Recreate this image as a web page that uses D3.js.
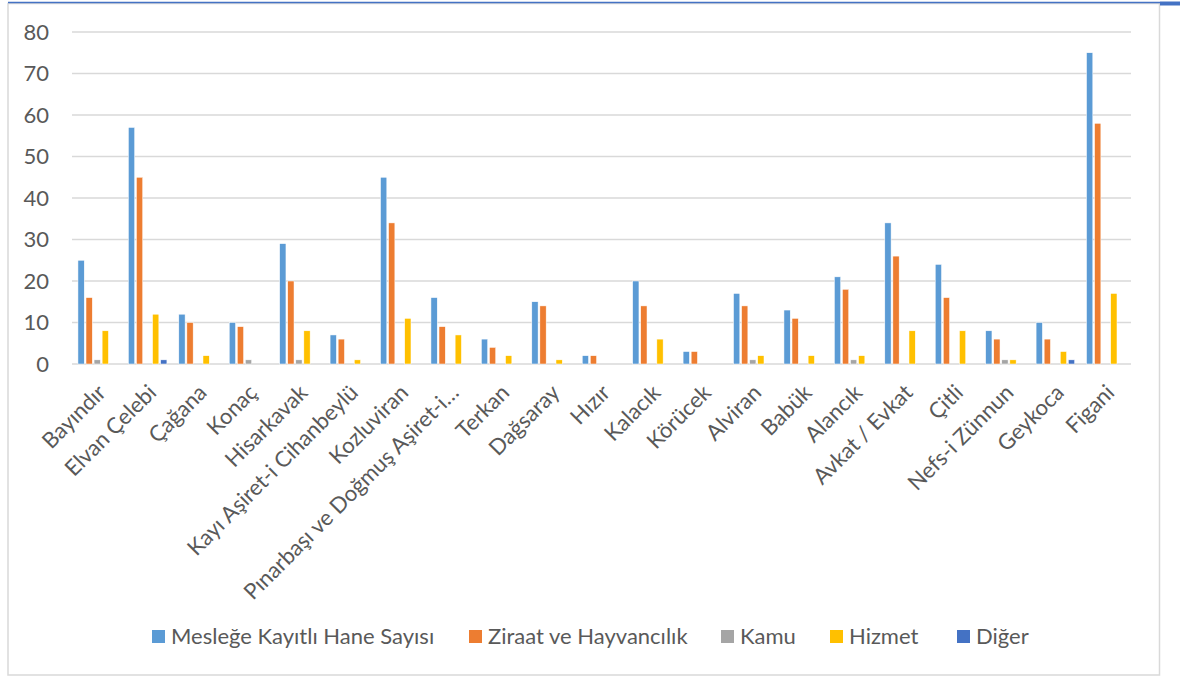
<!DOCTYPE html>
<html>
<head>
<meta charset="utf-8">
<script src="https://cdn.jsdelivr.net/npm/d3@7"></script>
<style>
  html, body { margin: 0; padding: 0; background: #fff; }
  svg { display: block; }
  text { font-family: "Lato", "Open Sans", sans-serif; fill: #595959; }
</style>
</head>
<body>
<svg id="chart" width="1180" height="677"></svg>
<script>
const categories = ["Bayındır", "Elvan Çelebi", "Çağana", "Konaç", "Hisarkavak",
  "Kayı Aşiret-i Cihanbeylü", "Kozluviran", "Pınarbaşı ve Doğmuş Aşiret-i…", "Terkan",
  "Dağsaray", "Hızır", "Kalacık", "Körücek", "Alviran", "Babük", "Alancık",
  "Avkat / Evkat", "Çitli", "Nefs-i Zünnun", "Geykoca", "Figani"];
const seriesNames = ["Mesleğe Kayıtlı Hane Sayısı", "Ziraat ve Hayvancılık", "Kamu", "Hizmet", "Diğer"];
const meslegeKayitli = [25, 57, 12, 10, 29, 7, 45, 16, 6, 15, 2, 20, 3, 17, 13, 21, 34, 24, 8, 10, 75];
const ziraat        = [16, 45, 10, 9, 20, 6, 34, 9, 4, 14, 2, 14, 3, 14, 11, 18, 26, 16, 6, 6, 58];
const kamu          = [1, 0, 0, 1, 1, 0, 0, 0, 0, 0, 0, 0, 0, 1, 0, 1, 0, 0, 1, 0, 0];
const hizmet        = [8, 12, 2, 0, 8, 1, 11, 7, 2, 1, 0, 6, 0, 2, 2, 2, 8, 8, 1, 3, 17];
const diger         = [0, 1, 0, 0, 0, 0, 0, 0, 0, 0, 0, 0, 0, 0, 0, 0, 0, 0, 0, 1, 0];
const yTicks = [0, 10, 20, 30, 40, 50, 60, 70, 80];
const colors = ["#5B9BD5", "#ED7D31", "#A5A5A5", "#FFC000", "#4472C4"];

const seriesValues = [meslegeKayitli, ziraat, kamu, hizmet, diger];
const FONT = 22;

const svg = d3.select("#chart");

// outer frame
svg.append("rect").attr("x", 8).attr("y", 3.5).attr("width", 1151.5).attr("height", 671.5)
  .attr("fill", "#fff").attr("stroke", "#D9D9D9").attr("stroke-width", 1.5);
svg.append("line").attr("x1", 8).attr("x2", 1160).attr("y1", 2.5).attr("y2", 2.5)
  .attr("stroke", "#4472C4").attr("stroke-width", 1.5);
svg.append("rect").attr("x", 1160).attr("y", 1.5).attr("width", 20).attr("height", 4)
  .attr("fill", "#4472C4");

const plotL = 72, plotR = 1131, plotT = 32, plotB = 364;

const x0 = d3.scaleBand().domain(categories).range([plotL, plotR])
  .paddingInner(0.236).paddingOuter(0.118);
const x1 = d3.scaleBand().domain(seriesNames).range([0, x0.bandwidth()]).paddingInner(0.22);
const y = d3.scaleLinear().domain([0, 80]).range([plotB, plotT]);

// gridlines
svg.append("g").selectAll("line").data(yTicks).join("line")
  .attr("x1", plotL).attr("x2", plotR)
  .attr("y1", d => y(d)).attr("y2", d => y(d))
  .attr("stroke", "#D9D9D9").attr("stroke-width", 1.3);

// y axis labels
const yAxis = d3.axisLeft(y).tickValues(yTicks).tickSize(0).tickPadding(0);
const yg = svg.append("g").attr("transform", `translate(49,0)`).call(yAxis);
yg.select(".domain").remove();
yg.selectAll("text").attr("font-size", FONT).style("fill", "#595959")
  .style("font-family", "Lato, 'Open Sans', sans-serif");

// bars
const groups = svg.append("g").selectAll("g").data(categories).join("g")
  .attr("transform", d => `translate(${x0(d)},0)`);
groups.selectAll("rect")
  .data((c, i) => seriesNames.map((s, j) => ({ s, j, v: seriesValues[j][i] })))
  .join("rect")
  .attr("x", d => x1(d.s))
  .attr("width", x1.bandwidth())
  .attr("y", d => y(d.v))
  .attr("height", d => plotB - y(d.v))
  .attr("fill", d => colors[d.j])
  .attr("stroke", "#fff").attr("stroke-width", 0.5);

// x axis
const xAxis = d3.axisBottom(x0).tickSize(0).tickPadding(0);
const xg = svg.append("g").attr("transform", `translate(0,${plotB})`).call(xAxis);
xg.select(".domain").remove();
xg.selectAll("text")
  .attr("font-size", FONT)
  .style("fill", "#595959")
  .style("font-family", "Lato, 'Open Sans', sans-serif")
  .attr("text-anchor", "end")
  .attr("dy", null)
  .attr("y", 0)
  .attr("transform", "translate(10,30) rotate(-45)");

// legend
const legendX = [152, 469, 721, 830, 957];
const lg = svg.append("g").selectAll("g").data(seriesNames).join("g")
  .attr("transform", (d, i) => `translate(${legendX[i]},636.5)`);
lg.append("rect").attr("x", 0).attr("y", -6.5).attr("width", 13).attr("height", 13)
  .attr("fill", (d, i) => colors[i]);
lg.append("text").attr("x", 19).attr("y", 0).attr("dy", "0.35em")
  .attr("font-size", FONT).text(d => d);
</script>
</body>
</html>
